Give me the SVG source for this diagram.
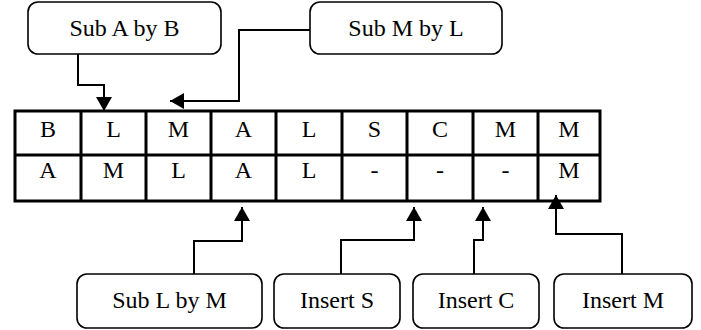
<svg xmlns="http://www.w3.org/2000/svg" width="701" height="330" viewBox="0 0 701 330">
<style>
.box{fill:#fff;stroke:#000;stroke-width:1.6}
.grid{fill:none;stroke:#000;stroke-width:3}
.c{fill:none;stroke:#000;stroke-width:2}
</style>
<defs>
<marker id="ah" markerWidth="14" markerHeight="16" refX="14" refY="8" orient="auto" markerUnits="userSpaceOnUse">
<path d="M0,0 L14,8 L0,16 Z" fill="#000"/>
</marker>
</defs>
<rect width="701" height="330" fill="#fff"/>
<g font-family="Liberation Serif, Times New Roman, serif" font-size="24" text-anchor="middle" fill="#000">
<g id="table">
<rect class="grid" x="15" y="111" width="585" height="90"/>
<path class="grid" d="M15,155H600M81,111V201M146,111V201M211,111V201M276,111V201M342,111V201M407,111V201M473,111V201M538,111V201"/>
<text x="48" y="137">B</text><text x="113.5" y="137">L</text><text x="178.5" y="137">M</text><text x="243.5" y="137">A</text><text x="309" y="137">L</text><text x="374.5" y="137">S</text><text x="440" y="137">C</text><text x="505.5" y="137">M</text><text x="569" y="137">M</text>
<text x="48" y="178">A</text><text x="113.5" y="178">M</text><text x="178.5" y="178">L</text><text x="243.5" y="178">A</text><text x="309" y="178">L</text><text x="374.5" y="178">-</text><text x="440" y="178">-</text><text x="505.5" y="178">-</text><text x="569" y="178">M</text>
</g>
<g id="connectors">
<path class="c" d="M78,54V85H104V111" marker-end="url(#ah)"/>
<path class="c" d="M310,30H239V101H170" marker-end="url(#ah)"/>
<path class="c" d="M194,274V241H242V207" marker-end="url(#ah)"/>
<path class="c" d="M341,274V240H414V207" marker-end="url(#ah)"/>
<path class="c" d="M474,274V240H483V207" marker-end="url(#ah)"/>
<path class="c" d="M622,274V234H556V195" marker-end="url(#ah)"/>
</g>
<g id="subAbyB"><rect class="box" x="28" y="2" width="193" height="52" rx="10"/><text x="124.5" y="36">Sub A by B</text></g>
<g id="subMbyL"><rect class="box" x="310" y="2" width="192" height="52" rx="10"/><text x="406" y="36">Sub M by L</text></g>
<g id="subLbyM"><rect class="box" x="77" y="274" width="185" height="54" rx="10"/><text x="169.5" y="308">Sub L by M</text></g>
<g id="insertS"><rect class="box" x="274" y="274" width="126" height="54" rx="10"/><text x="337" y="308">Insert S</text></g>
<g id="insertC"><rect class="box" x="413" y="274" width="126" height="54" rx="10"/><text x="476" y="308">Insert C</text></g>
<g id="insertM"><rect class="box" x="554" y="274" width="138" height="54" rx="10"/><text x="623" y="308">Insert M</text></g>
</g>
</svg>
